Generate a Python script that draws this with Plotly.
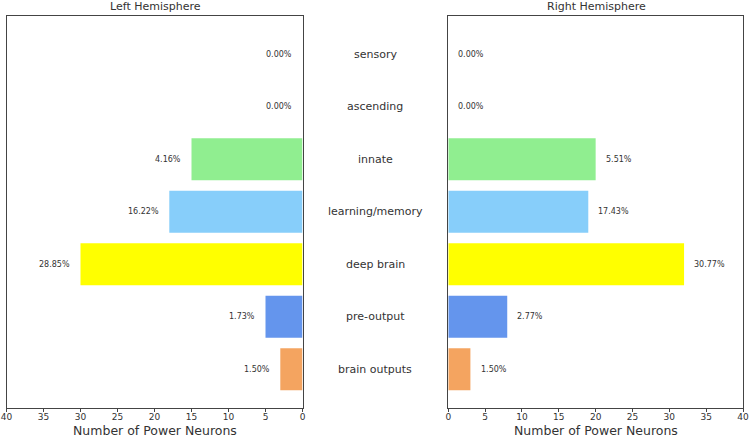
import plotly.graph_objects as go

categories = ["sensory", "ascending", "innate", "learning/memory", "deep brain", "pre-output", "brain outputs"]
left_counts = [0, 0, 15, 18, 30, 5, 3]
right_counts = [0, 0, 20, 19, 32, 8, 3]
left_pct = ["0.00%", "0.00%", "4.16%", "16.22%", "28.85%", "1.73%", "1.50%"]
right_pct = ["0.00%", "0.00%", "5.51%", "17.43%", "30.77%", "2.77%", "1.50%"]
colors = ["#90EE90", "#90EE90", "#90EE90", "#87CEFA", "#FFFF00", "#6495ED", "#F4A460"]
x_ticks = [0, 5, 10, 15, 20, 25, 30, 35, 40]

W, H = 751, 437
FONT = "DejaVu Sans"
TXT = "#333333"
LINE = "#444444"

ypos = list(range(len(categories)))

fig = go.Figure()
fig.add_trace(go.Bar(y=ypos, x=left_counts, orientation="h", marker=dict(color=colors, line=dict(width=0)),
                     width=0.8, xaxis="x", yaxis="y", showlegend=False))
fig.add_trace(go.Bar(y=ypos, x=right_counts, orientation="h", marker=dict(color=colors, line=dict(width=0)),
                     width=0.8, xaxis="x2", yaxis="y2", showlegend=False))

annotations = []
for i, c in enumerate(categories):
    annotations.append(dict(x=left_counts[i] + 1.1, y=i, xref="x", yref="y", text=left_pct[i],
                            xanchor="right", yanchor="middle", showarrow=False,
                            font=dict(family=FONT, size=8, color=TXT)))
    annotations.append(dict(x=right_counts[i] + 1.1, y=i, xref="x2", yref="y2", text=right_pct[i],
                            xanchor="left", yanchor="middle", showarrow=False,
                            font=dict(family=FONT, size=8, color=TXT)))
    annotations.append(dict(x=375 / W, y=i, xref="paper", yref="y", text=c,
                            xanchor="center", yanchor="middle", showarrow=False,
                            font=dict(family=FONT, size=11, color=TXT)))

for xc, t in [(155, "Left Hemisphere"), (596, "Right Hemisphere")]:
    annotations.append(dict(x=xc / W, y=1 - 7 / H, xref="paper", yref="paper", text=t,
                            xanchor="center", yanchor="middle", showarrow=False,
                            font=dict(family=FONT, size=11, color=TXT)))
for xc in [154.5, 595.5]:
    annotations.append(dict(x=xc / W, y=1 - 430.5 / H, xref="paper", yref="paper", text="Number of Power Neurons",
                            xanchor="center", yanchor="middle", showarrow=False,
                            font=dict(family=FONT, size=12.5, color=TXT)))

xd_left = [6.5 / W, 302.5 / W]
xd_right = [448.3 / W, 743 / W]
yd = [1 - 408 / H, 1 - 15.5 / H]

common_x = dict(showgrid=False, zeroline=False, showline=True, linecolor=LINE, linewidth=1, mirror=True,
                ticks="outside", ticklen=3, tickcolor=LINE, tickvals=x_ticks, automargin=False,
                ticklabelstandoff=-3,
                tickfont=dict(family=FONT, size=9, color=TXT))
common_y = dict(showgrid=False, zeroline=False, showline=True, linecolor=LINE, linewidth=1, mirror=True,
                showticklabels=False, ticks="", range=[6.74, -0.74], domain=yd, automargin=False)

fig.update_layout(
    width=W, height=H,
    margin=dict(l=0, r=0, t=0, b=0, autoexpand=False),
    paper_bgcolor="white", plot_bgcolor="white",
    xaxis=dict(common_x, domain=xd_left, range=[40, 0], anchor="y"),
    xaxis2=dict(common_x, domain=xd_right, range=[0, 40], anchor="y2"),
    yaxis=dict(common_y, anchor="x"),
    yaxis2=dict(common_y, anchor="x2"),
    annotations=annotations,
    bargap=0.2,
)

fig.write_html("out.html")
